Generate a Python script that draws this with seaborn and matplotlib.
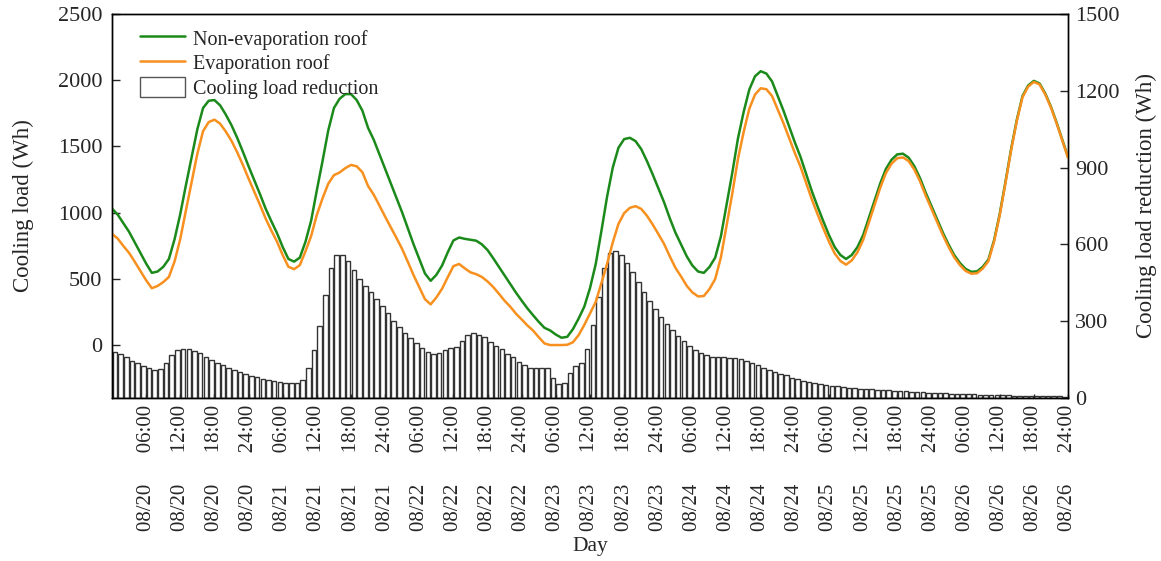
import numpy as np
import matplotlib
matplotlib.use("Agg")
import matplotlib.pyplot as plt
from matplotlib.lines import Line2D
from matplotlib.patches import Patch
import seaborn as sns

# --- hourly data, 08/20 00:00 .. 08/26 24:00 ---
# cooling load of the roof without evaporation (Wh), one value per hour (h = 0..168)
non_evap = [1030, 985, 920, 855, 775, 695, 615, 545, 555, 590,
            650, 800, 990, 1210, 1420, 1630, 1790, 1845, 1850, 1810,
            1740, 1660, 1565, 1460, 1350, 1245, 1140, 1030, 935, 845,
            740, 650, 630, 660, 780, 940, 1170, 1390, 1620, 1790,
            1860, 1895, 1895, 1850, 1770, 1640, 1550, 1440, 1330, 1220,
            1110, 1000, 880, 760, 650, 540, 485, 530, 600, 700,
            790, 812, 802, 795, 788, 760, 717, 655, 590, 525,
            460, 395, 335, 277, 225, 175, 130, 110, 79, 55,
            62, 120, 200, 290, 430, 610, 860, 1120, 1340, 1490,
            1555, 1565, 1540, 1480, 1390, 1290, 1185, 1080, 960, 850,
            760, 670, 600, 555, 545, 590, 660, 820, 1060, 1300,
            1560, 1760, 1930, 2030, 2068, 2050, 1990, 1880, 1770, 1650,
            1530, 1420, 1290, 1160, 1045, 935, 830, 740, 680, 650,
            680, 740, 830, 960, 1090, 1220, 1330, 1400, 1440, 1445,
            1415, 1350, 1260, 1150, 1050, 950, 850, 760, 680, 620,
            575, 553, 556, 590, 645, 790, 990, 1230, 1480, 1700,
            1880, 1960, 1995, 1975, 1900, 1800, 1680, 1550, 1420]

# cooling load of the evaporation roof (Wh)
evap = [840, 804, 748, 696, 629, 559, 489, 429, 446, 475,
        514, 632, 802, 1019, 1230, 1445, 1615, 1684, 1702, 1672,
        1612, 1542, 1456, 1360, 1257, 1159, 1059, 955, 865, 780,
        679, 591, 573, 603, 708, 824, 984, 1108, 1218, 1283,
        1303, 1336, 1360, 1350, 1305, 1201, 1135, 1053, 969, 889,
        808, 724, 627, 527, 436, 346, 307, 359, 425, 512,
        596, 612, 579, 549, 535, 514, 480, 438, 387, 334,
        289, 236, 193, 148, 109, 59, 12, 0, 0, 0,
        2, 21, 75, 152, 239, 325, 467, 613, 775, 915,
        996, 1036, 1049, 1028, 977, 911, 839, 765, 672, 584,
        518, 447, 397, 367, 370, 423, 499, 661, 901, 1143,
        1405, 1609, 1785, 1892, 1939, 1932, 1880, 1778, 1675, 1562,
        1450, 1346, 1222, 1098, 987, 881, 780, 692, 635, 607,
        639, 701, 793, 925, 1056, 1188, 1299, 1370, 1411, 1417,
        1389, 1325, 1236, 1128, 1029, 930, 831, 742, 663, 604,
        560, 539, 542, 577, 633, 779, 979, 1220, 1470, 1691,
        1871, 1952, 1987, 1968, 1893, 1794, 1674, 1544, 1415]

# hourly cooling load reduction (Wh), 168 bars
reduction = [181, 172, 159, 146, 136, 126, 116, 109, 115, 136,
             168, 188, 191, 190, 185, 175, 161, 148, 138, 128,
             118, 109, 100, 93, 86, 81, 75, 70, 65, 61,
             59, 57, 57, 72, 116, 186, 282, 402, 507, 557,
             559, 535, 500, 465, 439, 415, 387, 361, 331, 302,
             276, 253, 233, 214, 194, 178, 171, 175, 188, 194,
             200, 223, 246, 253, 246, 237, 217, 203, 191, 171,
             159, 142, 129, 116, 116, 118, 116, 79, 55, 60,
             99, 125, 138, 191, 285, 393, 507, 565, 575, 559,
             529, 491, 452, 413, 379, 346, 315, 288, 266, 242,
             223, 203, 188, 175, 167, 161, 159, 159, 157, 155,
             151, 145, 138, 129, 118, 110, 102, 95, 88, 80,
             74, 68, 62, 58, 54, 50, 48, 45, 43, 41,
             39, 37, 35, 34, 32, 31, 30, 29, 28, 26,
             25, 24, 22, 21, 20, 19, 18, 17, 16, 15,
             14, 14, 13, 12, 11, 11, 10, 10, 9, 9,
             8, 8, 7, 7, 6, 6, 6, 5]

tick_hours = list(range(6, 169, 6))
tick_labels = ["08/20      06:00", "08/20      12:00", "08/20      18:00", "08/20      24:00",
               "08/21      06:00", "08/21      12:00", "08/21      18:00", "08/21      24:00",
               "08/22      06:00", "08/22      12:00", "08/22      18:00", "08/22      24:00",
               "08/23      06:00", "08/23      12:00", "08/23      18:00", "08/23      24:00",
               "08/24      06:00", "08/24      12:00", "08/24      18:00", "08/24      24:00",
               "08/25      06:00", "08/25      12:00", "08/25      18:00", "08/25      24:00",
               "08/26      06:00", "08/26      12:00", "08/26      18:00", "08/26      24:00"]

hours = np.arange(len(non_evap))
bar_hours = np.arange(len(reduction)) + 0.5

GREEN = '#1b8a1b'
ORANGE = '#f7901e'
FS = 14.5

sns.set_style("ticks")
plt.rcParams['font.family'] = ['Liberation Serif', 'DejaVu Serif']
plt.rcParams['font.size'] = FS

fig = plt.figure(figsize=(11.61, 5.61), dpi=100)
ax = fig.add_axes([112 / 1161, 1 - 398 / 561, 956 / 1161, 384 / 561])
ax2 = ax.twinx()

# bars on the right axis, drawn behind the lines
sns.barplot(x=bar_hours, y=reduction, native_scale=True, ax=ax2, color='white',
            saturation=1, edgecolor='#333333', linewidth=1.0, width=0.8, errorbar=None)
sns.lineplot(x=hours, y=non_evap, ax=ax, color=GREEN, linewidth=1.8)
sns.lineplot(x=hours, y=evap, ax=ax, color=ORANGE, linewidth=1.8)
ax.set_zorder(ax2.get_zorder() + 1)
ax.patch.set_visible(False)

ax.set_xlim(0, 168)
ax.set_ylim(-400, 2500)
ax2.set_ylim(0, 1500)
ax.set_yticks(range(0, 2501, 500))
ax2.set_yticks(range(0, 1501, 300))
ax.set_xticks(tick_hours)
ax.set_xticklabels(tick_labels, rotation=90)

ax.tick_params(axis='y', direction='in', length=6, width=1, pad=7, labelsize=16)
ax.tick_params(axis='x', direction='in', length=3, width=1, pad=5, labelsize=15)
ax2.tick_params(axis='y', direction='in', length=6, width=1, pad=5, labelsize=16)
for a in (ax, ax2):
    for s in a.spines.values():
        s.set_linewidth(1.0)
        s.set_color('black')

ax.set_xlabel('Day', fontsize=15.5, labelpad=4)
ax.set_ylabel('Cooling load (Wh)', fontsize=16.5, labelpad=17)
ax2.set_ylabel('Cooling load reduction (Wh)', fontsize=16.5, labelpad=12)

handles = [Line2D([], [], color=GREEN, linewidth=1.8),
           Line2D([], [], color=ORANGE, linewidth=1.8),
           Patch(facecolor='white', edgecolor='#555555', linewidth=1.0)]
labels = ['Non-evaporation roof', 'Evaporation roof', 'Cooling load reduction']
ax.legend(handles, labels, loc='upper left', bbox_to_anchor=(0.015, 1.0), frameon=False,
          handlelength=2.2, handleheight=1.1, handletextpad=0.4, labelspacing=0.15,
          borderaxespad=0.3, fontsize=FS)

fig.savefig('out.png', dpi=100, facecolor='white')
